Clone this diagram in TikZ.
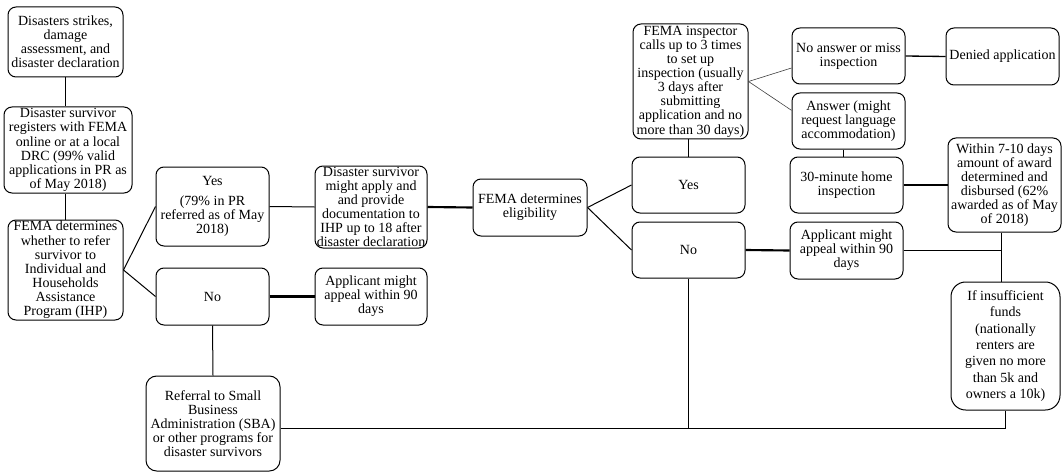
\documentclass[tikz,border=0pt]{standalone}
\usepackage{fontspec}
\setmainfont{Liberation Serif}

\tikzset{every picture/.style={line width=0.75pt}}
\tikzset{
  flowbox/.style={draw, rounded corners=6pt, align=center, inner xsep=1pt, inner ysep=0.5pt,
    font=\fontsize{10.5}{10.6}\selectfont},
  thinlink/.style={line width=0.75pt},
  thicklink/.style={line width=1.6pt},
  faintlink/.style={line width=0.45pt, draw=black!75},
}

\begin{document}
\begin{tikzpicture}[x=0.75pt,y=0.75pt,yscale=-1,xscale=1]
\useasboundingbox (0,0) rectangle (1062,474);

% Text Node
\node [flowbox, minimum width=86.25pt, minimum height=52.5pt] (strikes) at (65.5,42) {Disasters strikes,\\damage\\assessment, and\\disaster declaration};
% Text Node
\node [flowbox, minimum width=96pt, minimum height=64.5pt] (registers) at (68,150) {Disaster survivor\\registers with FEMA\\online or at a local\\DRC (99\% valid\\applications in PR as\\of May 2018)};
% Text Node
\node [flowbox, minimum width=86.25pt, minimum height=75pt] (refer) at (65.5,270) {FEMA determines\\whether to refer\\survivor to\\Individual and\\Households\\Assistance\\Program (IHP)};
% Text Node
\node [flowbox, minimum width=84.75pt, minimum height=59.25pt] (yesrefer) at (212.5,206.5) {Yes\\[4pt](79\% in PR\\referred as of May\\2018)};
% Text Node
\node [flowbox, minimum width=84.75pt, minimum height=42.75pt] (norefer) at (212.5,296.5) {No};
% Text Node
\node [flowbox, minimum width=84pt, minimum height=61.5pt] (apply) at (371,207) {Disaster survivor\\might apply and\\and provide\\documentation to\\IHP up to 18 after\\disaster declaration};
% Text Node
\node [flowbox, minimum width=84pt, minimum height=42.75pt] (appealrefer) at (371,296.5) {Applicant might\\appeal within 90\\days};
% Text Node
\node [flowbox, rounded corners=8pt, minimum width=100.5pt, minimum height=71.25pt] (sba) at (213,423.5) {Referral to Small\\Business\\Administration (SBA)\\or other programs for\\disaster survivors};
% Text Node
\node [flowbox, minimum width=85.5pt, minimum height=42.75pt] (elig) at (530,207.5) {FEMA determines\\eligibility};
% Text Node
\node [flowbox, minimum width=84.75pt, minimum height=42pt] (yeselig) at (688.5,185) {Yes};
% Text Node
\node [flowbox, minimum width=84.75pt, minimum height=42pt] (noelig) at (688.5,250) {No};
% Text Node
\node [flowbox, minimum width=86.25pt, minimum height=86.25pt] (inspector) at (690.5,81.5) {FEMA inspector\\calls up to 3 times\\to set up\\inspection (usually\\3 days after\\submitting\\application and no\\more than 30 days)};
% Text Node
\node [flowbox, minimum width=84.75pt, minimum height=42pt] (noanswer) at (848.5,56) {No answer or miss\\inspection};
% Text Node
\node [flowbox, minimum width=84.75pt, minimum height=42.75pt] (denied) at (1002.5,56.5) {Denied application};
% Text Node
\node [flowbox, minimum width=84.75pt, minimum height=42pt] (answer) at (848.5,121) {Answer (might\\request language\\accommodation)};
% Text Node
\node [flowbox, minimum width=84.75pt, minimum height=42pt] (home) at (846.5,185) {30-minute home\\inspection};
% Text Node
\node [flowbox, minimum width=84.75pt, minimum height=70.5pt] (award) at (1004.5,185) {Within 7-10 days\\amount of award\\determined and\\disbursed (62\%\\awarded as of May\\of 2018)};
% Text Node
\node [flowbox, minimum width=84.75pt, minimum height=42.75pt] (appealelig) at (846.5,250.5) {Applicant might\\appeal within 90\\days};
% Text Node
\node [flowbox, rounded corners=11pt, font=\fontsize{10.5}{12.3}\selectfont, minimum width=81.75pt, minimum height=96pt] (funds) at (1005.5,346) {If insufficient\\funds\\(nationally\\renters are\\given no more\\than 5k and\\owners a 10k)};

%Straight Lines
\coordinate (bus) at (690,428);
\draw [thinlink] (strikes.south) -- (strikes.south |- registers.north);
\draw [thinlink] (registers.south -| refer.north) -- (refer.north);
\draw [thinlink] (refer.east) -- (yesrefer.west);
\draw [thinlink] (refer.east) -- (norefer.west);
\draw [thinlink] (yesrefer.east) -- (apply.west);
\draw [thicklink] (apply.east) -- (elig.west);
\draw [thicklink] (norefer.east) -- (appealrefer.west);
\draw [thinlink] (norefer.south) -- (sba.north);
\draw [thinlink] (sba.east |- bus) -| (funds.south);
\draw [thinlink] (noelig.south) -- (noelig.south |- bus);
\draw [thinlink] (elig.east) -- (yeselig.west);
\draw [thinlink] (elig.east) -- (noelig.west);
\draw [thinlink] (yeselig.north) -- (yeselig.north |- inspector.south);
\draw [faintlink] (inspector.east) -- ([yshift=9pt]noanswer.west);
\draw [faintlink] (inspector.east) -- ([yshift=-8pt]answer.west);
\draw [line width=1pt] (noanswer.east) -- (denied.west);
\draw [thinlink] ([xshift=-4pt]answer.south) -- ([xshift=-4pt]answer.south |- home.north);
\draw [thicklink] (home.east) -- (award.west);
\draw [thinlink] ([xshift=-2pt]award.south) -- ([xshift=-2pt]award.south |- funds.north);
\draw [thinlink] (appealelig.east) -- ([xshift=-2pt]appealelig.east -| award.south);
\draw [thicklink] (noelig.east) -- (appealelig.west);

\end{tikzpicture}
\end{document}
